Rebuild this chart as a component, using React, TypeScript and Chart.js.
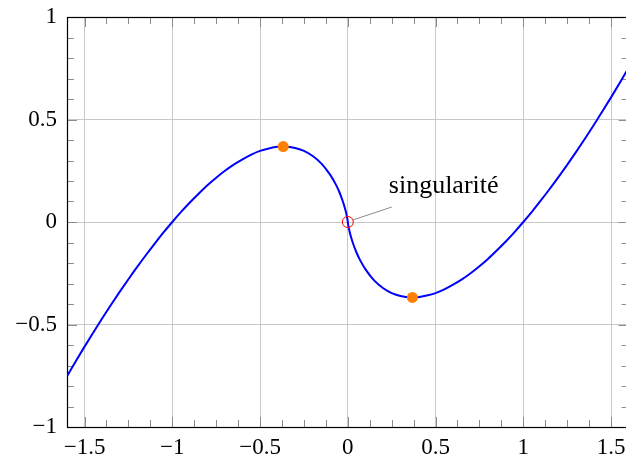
import React, { useEffect, useRef } from "react";
import { Chart, registerables } from "chart.js";

Chart.register(...registerables);

// Curve samples (x, y)
const curveX = [
  -1.6, -1.55, -1.5, -1.45, -1.4, -1.35, -1.3, -1.25, -1.2, -1.15, -1.1, -1.05, -1,
  -0.95, -0.9, -0.85, -0.8, -0.75, -0.7, -0.65, -0.6, -0.55, -0.5, -0.45, -0.4, -0.368,
  -0.33, -0.3, -0.25, -0.2, -0.15, -0.1, -0.07, -0.05, -0.03, -0.02, -0.01, -0.005, -0.002,
  -0.0005, 0, 0.0005, 0.002, 0.005, 0.01, 0.02, 0.03, 0.05, 0.07, 0.1, 0.15, 0.2, 0.25,
  0.3, 0.33, 0.368, 0.4, 0.45, 0.5, 0.55, 0.6, 0.65, 0.7, 0.75, 0.8, 0.85, 0.9, 0.95, 1,
  1.05, 1.1, 1.15, 1.2, 1.25, 1.3, 1.35, 1.4, 1.45, 1.5, 1.55, 1.6,
];
const curveY = [
  -0.752, -0.679, -0.608, -0.539, -0.471, -0.405, -0.341, -0.279, -0.219, -0.161, -0.105, -0.051, 0,
  0.049, 0.095, 0.138, 0.179, 0.216, 0.25, 0.28, 0.306, 0.329, 0.347, 0.359, 0.367, 0.368,
  0.366, 0.361, 0.347, 0.322, 0.285, 0.23, 0.186, 0.15, 0.105, 0.078, 0.046, 0.026, 0.012,
  0.004, 0, -0.004, -0.012, -0.026, -0.046, -0.078, -0.105, -0.15, -0.186, -0.23, -0.285, -0.322, -0.347,
  -0.361, -0.366, -0.368, -0.367, -0.359, -0.347, -0.329, -0.306, -0.28, -0.25, -0.216, -0.179, -0.138, -0.095, -0.049, 0,
  0.051, 0.105, 0.161, 0.219, 0.279, 0.341, 0.405, 0.471, 0.539, 0.608, 0.679, 0.752,
];

// Extrema markers
const extremaX = [-0.368, 0.368];
const extremaY = [0.368, -0.368];

// Singularity marker and annotation
const singularX = [0];
const singularY = [0];
const annotationText = "singularité";

// Axes
const xMin = -1.6;
const xMax = 1.6;
const yMin = -1;
const yMax = 1;
const xTicks = [-1.5, -1, -0.5, 0, 0.5, 1, 1.5];
const xTickLabels = ["−1.5", "−1", "−0.5", "0", "0.5", "1", "1.5"];
const yTicks = [-1, -0.5, 0, 0.5, 1];
const yTickLabels = ["−1", "−0.5", "0", "0.5", "1"];
const xMinorTicks = [
  -1.375, -1.25, -1.125, -0.875, -0.75, -0.625, -0.375, -0.25, -0.125,
  0.125, 0.25, 0.375, 0.625, 0.75, 0.875, 1.125, 1.25, 1.375,
];
const yMinorTicks = [
  -0.9, -0.8, -0.7, -0.6, -0.4, -0.3, -0.2, -0.1, 0.1, 0.2, 0.3, 0.4, 0.6, 0.7, 0.8, 0.9,
];

const FONT = "'Liberation Serif', 'Times New Roman', serif";

const frameAndTicks = {
  id: "frameAndTicks",
  beforeDatasetsDraw(chart: any) {
    const { ctx, chartArea: a, scales } = chart;
    const xs = scales.x;
    const ys = scales.y;
    ctx.save();
    ctx.strokeStyle = "#8c8c8c";
    ctx.lineWidth = 1;
    const MAJ = 10;
    const MIN = 7;
    const vtick = (v: number, len: number) => {
      const px = Math.round(xs.getPixelForValue(v)) + 0.5;
      ctx.beginPath();
      ctx.moveTo(px, a.bottom);
      ctx.lineTo(px, a.bottom - len);
      ctx.moveTo(px, a.top);
      ctx.lineTo(px, a.top + len);
      ctx.stroke();
    };
    const htick = (v: number, len: number) => {
      const py = Math.round(ys.getPixelForValue(v)) + 0.5;
      ctx.beginPath();
      ctx.moveTo(a.left, py);
      ctx.lineTo(a.left + len, py);
      ctx.moveTo(a.right, py);
      ctx.lineTo(a.right - len, py);
      ctx.stroke();
    };
    xTicks.forEach((v) => vtick(v, MAJ));
    xMinorTicks.forEach((v) => vtick(v, MIN));
    yTicks.forEach((v) => htick(v, MAJ));
    yMinorTicks.forEach((v) => htick(v, MIN));
    ctx.strokeStyle = "#000";
    ctx.lineWidth = 1.2;
    ctx.strokeRect(
      Math.round(a.left) + 0.5,
      Math.round(a.top) + 0.5,
      Math.round(a.right) - Math.round(a.left),
      Math.round(a.bottom) - Math.round(a.top)
    );
    ctx.restore();
  },
  afterDatasetsDraw(chart: any) {
    const { ctx, scales } = chart;
    const px = scales.x.getPixelForValue(singularX[0]);
    const py = scales.y.getPixelForValue(singularY[0]);
    ctx.save();
    ctx.strokeStyle = "#8a8a8a";
    ctx.lineWidth = 1;
    ctx.beginPath();
    ctx.moveTo(px + 5, py - 2);
    ctx.lineTo(px + 44, py - 15);
    ctx.stroke();
    ctx.fillStyle = "#000";
    ctx.font = `26px ${FONT}`;
    ctx.textAlign = "left";
    ctx.textBaseline = "alphabetic";
    ctx.fillText(annotationText, px + 41, py - 29);
    ctx.restore();
  },
};

const zeroPad = (s: any) => {
  s.paddingTop = 0;
  s.paddingBottom = 0;
  s.paddingLeft = 0;
  s.paddingRight = 0;
};

export default function App() {
  const canvasRef = useRef<HTMLCanvasElement | null>(null);

  useEffect(() => {
    const canvas = canvasRef.current;
    if (!canvas) return;
    const chart = new Chart(canvas, {
      type: "scatter",
      data: {
        datasets: [
          {
            label: "extrema",
            data: extremaX.map((x, i) => ({ x, y: extremaY[i] })),
            backgroundColor: "#ff8000",
            borderColor: "#ff8000",
            pointRadius: 5.5,
            borderWidth: 0,
            showLine: false,
            order: 0,
          },
          {
            label: "singularité",
            data: singularX.map((x, i) => ({ x, y: singularY[i] })),
            backgroundColor: "rgba(0,0,0,0)",
            borderColor: "#ff0000",
            pointRadius: 5.5,
            borderWidth: 1,
            showLine: false,
            order: 0,
          },
          {
            label: "curve",
            data: curveX.map((x, i) => ({ x, y: curveY[i] })),
            borderColor: "#0000ff",
            borderWidth: 2,
            pointRadius: 0,
            showLine: true,
            cubicInterpolationMode: "monotone",
            fill: false,
            order: 1,
          },
        ],
      },
      options: {
        animation: false,
        responsive: false,
        devicePixelRatio: 1,
        layout: { padding: { top: 17, right: 11.4, left: 0, bottom: 0 } },
        plugins: { legend: { display: false }, tooltip: { enabled: false } },
        scales: {
          x: {
            type: "linear",
            position: "bottom",
            min: xMin,
            max: xMax,
            afterBuildTicks: (s: any) => {
              s.ticks = xTicks.map((v) => ({ value: v }));
            },
            afterFit: (s: any) => {
              s.height = 30;
              zeroPad(s);
            },
            ticks: {
              autoSkip: false,
              maxRotation: 0,
              padding: 7,
              color: "#000",
              font: { family: FONT, size: 23 },
              callback: (v: any) => xTickLabels[xTicks.indexOf(Number(v))],
            },
            grid: { color: "#c8c8c8", lineWidth: 1, drawTicks: false },
            border: { display: false },
          },
          y: {
            type: "linear",
            position: "left",
            min: yMin,
            max: yMax,
            afterBuildTicks: (s: any) => {
              s.ticks = yTicks.map((v) => ({ value: v }));
            },
            afterFit: (s: any) => {
              s.width = 67;
              zeroPad(s);
            },
            ticks: {
              autoSkip: false,
              padding: 10,
              color: "#000",
              font: { family: FONT, size: 23 },
              callback: (v: any) => yTickLabels[yTicks.indexOf(Number(v))],
            },
            grid: { color: "#c8c8c8", lineWidth: 1, drawTicks: false },
            border: { display: false },
          },
        },
      },
      plugins: [frameAndTicks],
    } as any);
    return () => chart.destroy();
  }, []);

  return (
    <div
      style={{
        position: "fixed",
        left: 0,
        top: 0,
        width: 626,
        height: 457,
        overflow: "hidden",
        background: "#fff",
      }}
    >
      <canvas ref={canvasRef} width={640} height={457} style={{ display: "block" }} />
    </div>
  );
}
